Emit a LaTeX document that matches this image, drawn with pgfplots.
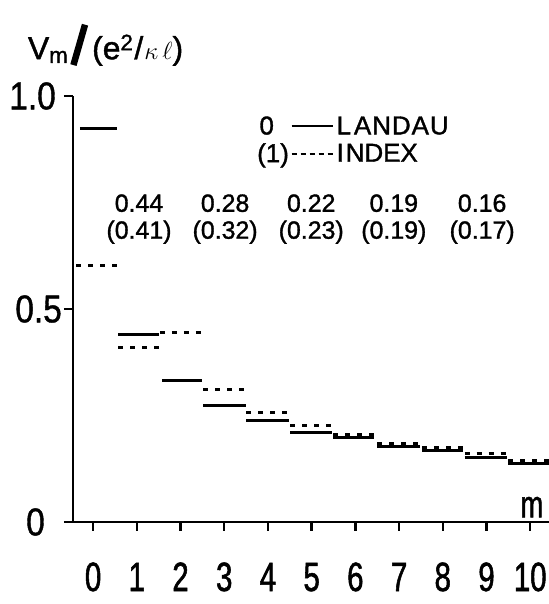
\documentclass[border=0pt]{standalone}
\usepackage{graphicx}
\usepackage{pgfplots}
\pgfplotsset{compat=1.18}
\usepackage{fontspec}
\setmainfont{Liberation Sans}
\newfontfamily\ann[FakeBold=1.3]{Liberation Sans}
\newfontfamily\condx[FakeStretch=0.72,FakeBold=1.3]{Liberation Sans}
\newfontfamily\condy[FakeStretch=0.86,FakeBold=1.0]{Liberation Sans}
\begin{document}
\begin{tikzpicture}
\begin{axis}[
  scale only axis,
  width=476bp, height=426bp,
  xmin=-0.46, xmax=10.43, ymin=0, ymax=1.0,
  axis x line*=bottom, axis y line*=left,
  axis line style={line width=2.8bp},
  /pgf/number format/assume math mode=true,
  xtick={0,1,2,3,4,5,6,7,8,9,10},
  ytick={0,0.5,1.0},
  yticklabels={0\rule{17bp}{0pt},0.5,1.0\rule{6bp}{0pt}},
  tick align=outside,
  major tick length=9bp,
  tick style={line width=2.4bp, black},
  xticklabel style={font=\condx\fontsize{41}{41}\selectfont, inner sep=0pt, anchor=base, yshift=-60bp},
  yticklabel style={font=\condy\fontsize{39}{39}\selectfont, inner sep=0pt, anchor=east, xshift=-2bp},
  xlabel={m},
  xlabel style={font=\condx\fontsize{38}{38}\selectfont, inner sep=0pt, at={(axis description cs:0.964,0.035)}, anchor=center},
  ylabel={V\textsubscript{m}\hspace{2bp}\raisebox{-5bp}{\rotatebox{-16}{\rule{6.5bp}{42bp}}}\hspace{4bp}(e\textsuperscript{2}\hspace{1bp}/\hspace{1bp}$\kappa\,\ell$)},
  ylabel style={rotate=-90, font=\ann\fontsize{32}{32}\selectfont, inner sep=0pt, at={(axis description cs:-0.095,1.12)}, anchor=west},
  unbounded coords=jump,
  legend style={draw=none, fill=none, inner sep=0pt, font=\ann\fontsize{26}{26}\selectfont,
     at={(axis cs:4.12,0.897)}, anchor=west, row sep=6bp,
     nodes={inner sep=1bp},
     /tikz/every even column/.append style={column sep=0pt}},
  legend cell align=left,
]
% Landau level 0 (solid)
\addplot[black, line width=3bp, forget plot] coordinates {
 (-0.30,0.923) (0.55,0.923) (0.55,nan)
 (0.58,0.440) (1.50,0.440) (1.50,nan)
 (1.58,0.332) (2.50,0.332) (2.50,nan)
 (2.52,0.273) (3.50,0.273) (3.50,nan)
 (3.50,0.238) (4.48,0.238) (4.48,nan)
 (4.51,0.210) (5.47,0.210) (5.47,nan)
 (5.49,0.199) (6.43,0.199) (6.43,nan)
 (6.50,0.178) (7.48,0.178) (7.48,nan)
 (7.53,0.168) (8.47,0.168) (8.47,nan)
 (8.50,0.152) (9.47,0.152) (9.47,nan)
 (9.50,0.138) (10.43,0.138)
};
% Landau level index 1 (dashed)
\addplot[black, line width=3bp, dash pattern=on 5bp off 7bp, forget plot] coordinates {
 (-0.39,0.603) (0.55,0.603) (0.55,nan)
 (0.57,0.409) (1.53,0.409) (1.53,nan)
 (1.53,0.446) (2.54,0.446) (2.54,nan)
 (2.52,0.310) (3.50,0.310) (3.50,nan)
 (3.50,0.257) (4.48,0.257) (4.48,nan)
 (4.51,0.227) (5.47,0.227) (5.47,nan)
 (5.49,0.206) (6.43,0.206) (6.43,nan)
 (6.50,0.185) (7.48,0.185) (7.48,nan)
 (7.53,0.175) (8.47,0.175) (8.47,nan)
 (8.50,0.161) (9.47,0.161) (9.47,nan)
 (9.50,0.145) (10.43,0.145)
};
\addlegendimage{legend image code/.code={
  \node[anchor=east, inner sep=0pt, font=\ann\fontsize{26}{26}\selectfont] at (-17bp,0bp) {\makebox[0pt][r]{0}};
  \draw[black, line width=2bp] (0bp,0bp) -- (41bp,0bp);}}
\addlegendentry{L\hspace{3bp}A\hspace{1bp}N\hspace{1bp}D\hspace{1bp}A\hspace{1bp}U}
\addlegendimage{legend image code/.code={
  \node[anchor=east, inner sep=0pt, font=\ann\fontsize{26}{26}\selectfont] at (-2bp,0bp) {\makebox[0pt][r]{(1)}};
  \draw[black, line width=2bp, dash pattern=on 5bp off 4bp] (0bp,0bp) -- (43bp,0bp);}}
\addlegendentry{I\hspace{2bp}NDEX}
% value annotations
\node[font=\ann\fontsize{25}{27}\selectfont, align=center, inner sep=0pt] at (axis cs:1.05,0.711) {0.44\\(0.41)};
\node[font=\ann\fontsize{25}{27}\selectfont, align=center, inner sep=0pt] at (axis cs:3.02,0.711) {0.28\\(0.32)};
\node[font=\ann\fontsize{25}{27}\selectfont, align=center, inner sep=0pt] at (axis cs:4.99,0.711) {0.22\\(0.23)};
\node[font=\ann\fontsize{25}{27}\selectfont, align=center, inner sep=0pt] at (axis cs:6.88,0.711) {0.19\\(0.19)};
\node[font=\ann\fontsize{25}{27}\selectfont, align=center, inner sep=0pt] at (axis cs:8.90,0.711) {0.16\\(0.17)};
\end{axis}
\pgfresetboundingbox
\path[use as bounding box] (-73bp,-82bp) rectangle (476bp,522bp);
\end{tikzpicture}
\end{document}
